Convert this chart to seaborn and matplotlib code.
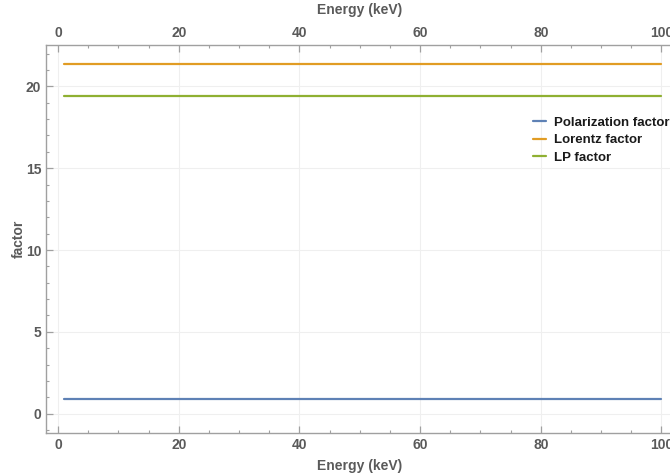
import numpy as np
import pandas as pd
import matplotlib
matplotlib.use("Agg")
import matplotlib.pyplot as plt
from matplotlib.ticker import MultipleLocator
import seaborn as sns

# Energy grid (keV) and the three factors (constant over energy)
energy = list(range(1, 101))
polarization = [0.92] * len(energy)
lorentz = [21.34] * len(energy)
lp = [19.43] * len(energy)
series_names = ["Polarization factor", "Lorentz factor", "LP factor"]
colors = ["#5E81B5", "#E19C24", "#8FB032"]

df = pd.DataFrame({
    "Energy": energy * 3,
    "factor": polarization + lorentz + lp,
    "series": [series_names[0]] * len(energy) + [series_names[1]] * len(energy) + [series_names[2]] * len(energy),
})

sns.set_style("white")
plt.rcParams["font.family"] = ["Liberation Sans", "DejaVu Sans"]
plt.rcParams["font.weight"] = "bold"

fig = plt.figure(figsize=(6.7, 4.74), dpi=100)
ax = fig.add_axes([46 / 670, 0.0871, (673.5 - 46) / 670, 0.9057 - 0.0871])

sns.lineplot(data=df, x="Energy", y="factor", hue="series", hue_order=series_names,
             palette=colors, linewidth=1.6, ax=ax)

ax.set_xlim(-2, 102)
ax.set_ylim(-1.16, 22.54)

text_col = "#5a5a5a"
frame_col = "#a0a0a0"
for s in ax.spines.values():
    s.set_color(frame_col)
    s.set_linewidth(1.0)

ax.xaxis.set_major_locator(MultipleLocator(20))
ax.xaxis.set_minor_locator(MultipleLocator(5))
ax.yaxis.set_major_locator(MultipleLocator(5))
ax.yaxis.set_minor_locator(MultipleLocator(1))
ax.tick_params(which="both", direction="in", color=frame_col, top=True, bottom=True, left=True, right=False,
               labeltop=True, labelbottom=True, labelcolor=text_col, labelsize=10)
ax.tick_params(which="major", length=5, width=0.9)
ax.tick_params(which="minor", length=2.5, width=0.8)
for lab in ax.get_xticklabels() + ax.get_yticklabels():
    lab.set_fontweight("bold")

ax.grid(True, which="major", color="#efefef", linewidth=0.8)

ax.set_xlabel("Energy (keV)", color=text_col, fontsize=10, fontweight="bold", labelpad=5)
ax.set_ylabel("factor", color=text_col, fontsize=10, fontweight="bold", labelpad=0)
fig.text(360 / 670, 1 - 10 / 474, "Energy (keV)", color=text_col, fontsize=10,
         fontweight="bold", ha="center", va="center")

leg = ax.legend(title=None, frameon=False, loc="upper left", bbox_to_anchor=(0.768, 0.828),
                fontsize=9.5, handlelength=1.0, handletextpad=0.6, labelspacing=0.4,
                borderaxespad=0)
for t in leg.get_texts():
    t.set_fontweight("bold")
    t.set_color("#1a1a1a")

fig.savefig("out.png", dpi=100)
